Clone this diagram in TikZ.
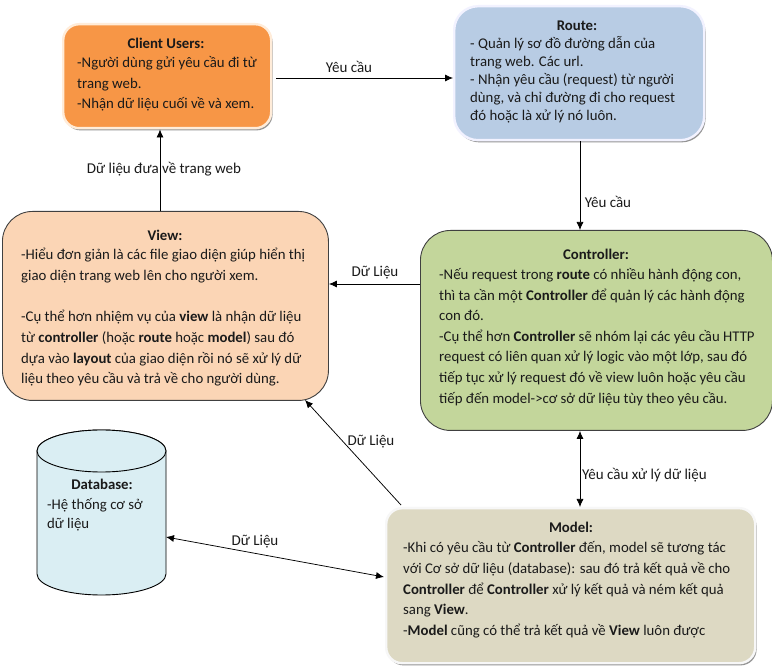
\documentclass[tikz,border=0pt]{standalone}
\usepackage{fontspec}
\setmainfont{Carlito}
\usetikzlibrary{arrows.meta,shadows}
\definecolor{inkc}{HTML}{1A1A1A}
\definecolor{clientfill}{HTML}{F79646}
\tikzset{
  x=1pt,y=-1pt,
  boxbase/.style={rectangle,anchor=north west,inner sep=0pt},
  softbox/.style={boxbase,rounded corners=16pt,draw=#1,line width=2.4pt,
     general shadow={shadow xshift=1.4pt,shadow yshift=-2.2pt,fill=black!42}},
  darkbox/.style={boxbase,rounded corners=30pt,draw=black!75!white,line width=0.9pt},
  titletext/.style={font=\fontsize{14.8}{14.8}\selectfont\bfseries,text=inkc,inner sep=0pt},
  bodytext/.style={font=\fontsize{14.8}{#1}\selectfont,text=inkc,align=left,inner sep=0pt,anchor=north west},
  edgelabel/.style={font=\fontsize{15}{16}\selectfont,text=inkc,inner sep=0pt},
  conn/.style={line width=0.75pt,draw=black,-{Latex[length=8pt,width=7pt]}},
  conntwo/.style={line width=0.75pt,draw=black,{Latex[length=8pt,width=7pt]}-{Latex[length=8pt,width=7pt]}},
}
\begin{document}
\begin{tikzpicture}
\useasboundingbox (0,0) rectangle (772,668);
\fill[white] (0,0) rectangle (772,668);

% boxes
\node[softbox=orange!15!white,fill=clientfill,minimum width=208pt,minimum height=104pt] (client) at (62,23) {};
\node[softbox=blue!5!white,fill={rgb,255:red,184;green,204;blue,228},minimum width=250pt,minimum height=134pt,rounded corners=24pt] (route) at (453,5) {};
\node[darkbox,fill={rgb,255:red,195;green,214;blue,155},minimum width=352pt,minimum height=200pt] (controller) at (420,230) {};
\node[darkbox,fill={rgb,255:red,251;green,213;blue,181},minimum width=326pt,minimum height=189pt] (view) at (2,211) {};
\node[softbox=black!3!white,fill={rgb,255:red,221;green,217;blue,195},minimum width=369pt,minimum height=155pt] (model) at (385,507) {};

% database cylinder
\coordinate (dbtopl) at (37,451);
\coordinate (dbtopr) at (166,451);
\coordinate (dbbotl) at (37,574);
\coordinate (dbbotr) at (166,574);
\coordinate (dbport) at (166,537);
\filldraw[fill={rgb,255:red,218;green,238;blue,243},draw=black,line width=0.9pt]
  (dbtopl) -- (dbbotl) arc[start angle=180,end angle=360,x radius=64.5pt,y radius=21pt] -- (dbtopr)
  arc[start angle=0,end angle=180,x radius=64.5pt,y radius=21pt];
\draw[line width=0.9pt,fill={rgb,255:red,218;green,238;blue,243}] (101.5,451) ellipse[x radius=64.5pt,y radius=21pt];

% titles
\node[titletext] (tclient) at (166,43) {Client Users:};
\node[titletext] (troute) at (577,26) {Route:};
\node[titletext] (tcontroller) at (596,254) {Controller:};
\node[titletext] (tview) at (165,235.5) {View:};
\node[titletext] (tdb) at (102,484) {Database:};
\node[titletext] (tmodel) at (571,527) {Model:};

% bodies
\node[bodytext=20.6pt] (bclient) at (77,56.5) {-Người dùng gửi yêu cầu đi từ\\trang web.\\-Nhận dữ liệu cuối về và xem.};
\node[bodytext=17.9pt] (broute) at (470,36.6) {- Quản lý sơ đồ đường dẫn của\\trang web. Các url.\\- Nhận yêu cầu (request) từ người\\dùng, và chỉ đường đi cho request\\đó hoặc là xử lý nó luôn.};
\node[bodytext=20.6pt] (bcontroller) at (439,268.2) {-Nếu request trong \textbf{route} có nhiều hành động con,\\thì ta cần một \textbf{Controller} để quản lý các hành động\\con đó.\\-Cụ thể hơn \textbf{Controller} sẽ nhóm lại các yêu cầu HTTP\\request có liên quan xử lý logic vào một lớp, sau đó\\tiếp tục xử lý request đó về view luôn hoặc yêu cầu\\tiếp đến model->cơ sở dữ liệu tùy theo yêu cầu.};
\node[bodytext=20.7pt] (bview) at (21,248) {-Hiểu đơn giản là các file giao diện giúp hiển thị\\giao diện trang web lên cho người xem.\\[20.7pt]-Cụ thể hơn nhiệm vụ của \textbf{view} là nhận dữ liệu\\từ \textbf{controller} (hoặc \textbf{route} hoặc \textbf{model}) sau đó\\dựa vào \textbf{layout} của giao diện rồi nó sẽ xử lý dữ\\liệu theo yêu cầu và trả về cho người dùng.};
\node[bodytext=18.5pt] (bdb) at (47,498.6) {-Hệ thống cơ sở\\dữ liệu};
\node[bodytext=20.6pt] (bmodel) at (403,541.6) {-Khi có yêu cầu từ \textbf{Controller} đến, model  sẽ tương tác\\với Cơ sở dữ liệu (database): sau đó trả kết quả về cho\\\textbf{Controller} để \textbf{Controller} xử lý kết quả và ném kết quả\\sang \textbf{View}.\\-\textbf{Model} cũng có thể trả kết quả về \textbf{View} luôn được};

% connectors
\coordinate (clientport) at (276,78);
\draw[conn] (clientport) -- (route.west |- clientport);
\draw[conn] (route.south -| 580,0) -- (controller.north -| 580,0);
\draw[conn] (controller.west |- 0,284) -- (view.east |- 0,284);
\draw[conn] (view.north -| 160,0) -- (client.south -| 160,0);
\draw[conn] (401,505) -- (305,400);
\draw[conntwo] (controller.south -| 580,0) -- (model.north -| 580,0);
\draw[conntwo] (dbport) -- (384,577);

% labels
\node[edgelabel] (l1) at (349,67) {Yêu cầu};
\node[edgelabel] (l2) at (608,202) {Yêu cầu};
\node[edgelabel] (l3) at (375,272.5) {Dữ Liệu};
\node[edgelabel] (l4) at (164,169) {Dữ liệu đưa về trang web};
\node[edgelabel] (l5) at (371,441.5) {Dữ Liệu};
\node[edgelabel] (l6) at (644.5,475) {Yêu cầu xử lý dữ liệu};
\node[edgelabel] (l7) at (255,541.5) {Dữ Liệu};
\end{tikzpicture}
\end{document}
